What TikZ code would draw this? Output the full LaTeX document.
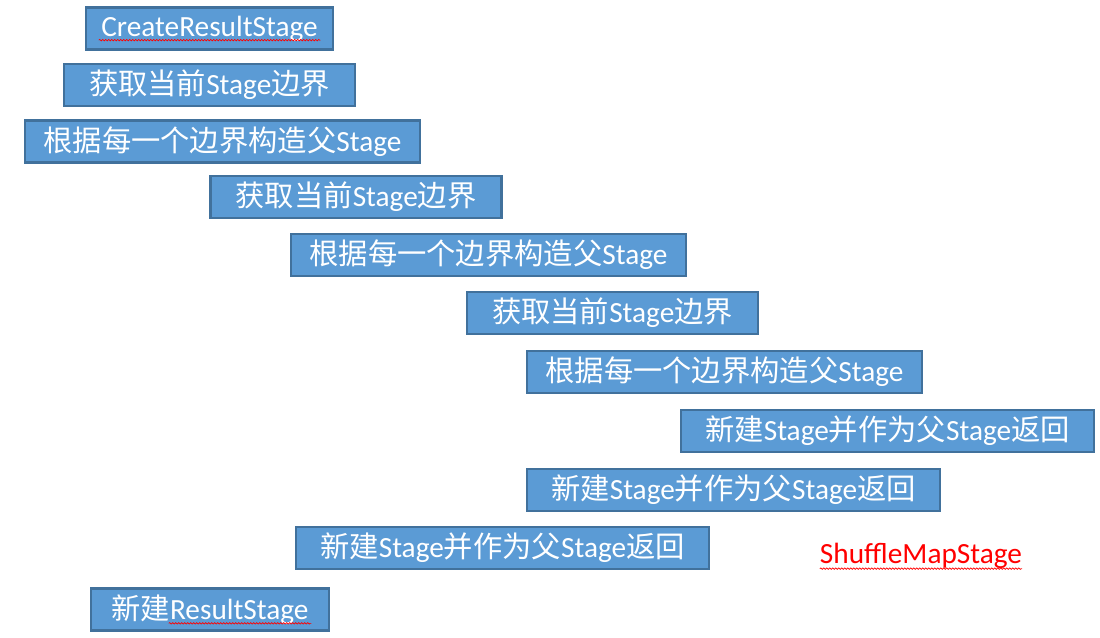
\documentclass[tikz,border=0pt]{standalone}
\usepackage{fontspec}
\setmainfont{Carlito}
\newfontfamily\cjk{Noto Sans CJK SC}
\newcommand{\zh}[1]{{\cjk #1}}
\usepackage{xcolor}
\usetikzlibrary{decorations.pathmorphing}
\definecolor{stgfill}{RGB}{91,155,213}
\definecolor{stgline}{RGB}{65,113,156}

\begin{document}
\begin{tikzpicture}[x=1pt,y=-1pt,
                    stg/.style={rectangle,draw=stgline,fill=stgfill,
                    line width=2.5pt,text=white,inner sep=0pt,
                    minimum width=#1,minimum height=42,
                    font=\fontsize{29.3}{35}\selectfont},
                    squig/.style={red,line width=0.7pt,decorate,
                    decoration={snake,amplitude=0.7pt,segment length=3pt}}]
    \useasboundingbox (0,0) rectangle (1100,637);
    % going down: boundaries and parents
    \node[stg=247](crs)  at (209.5,28.5) {CreateResultStage};
    \node[stg=291](get1) at (209.5,85)   {\zh{获取当前}Stage\zh{边界}};
    \node[stg=395](par1) at (222.5,141.5){\zh{根据每一个边界构造父}Stage};
    \node[stg=291](get2) at (356,197)    {\zh{获取当前}Stage\zh{边界}};
    \node[stg=395](par2) at (488.5,255)  {\zh{根据每一个边界构造父}Stage};
    \node[stg=291](get3) at (612.5,313)  {\zh{获取当前}Stage\zh{边界}};
    \node[stg=395](par3) at (724.5,372)  {\zh{根据每一个边界构造父}Stage};
    % coming back up: new stages
    \node[stg=413](new3) at (887.5,431)  {\zh{新建}Stage\zh{并作为父}Stage\zh{返回}};
    \node[stg=413](new2) at (733.5,490)  {\zh{新建}Stage\zh{并作为父}Stage\zh{返回}};
    \node[stg=413](new1) at (502.5,548)  {\zh{新建}Stage\zh{并作为父}Stage\zh{返回}};
    \node[stg=238](res)  at (210,609.5)  {\zh{新建}ResultStage};
    \node[text=red,inner sep=0pt,font=\fontsize{29.3}{35}\selectfont](smap)
        at (921,556) {ShuffleMapStage};
    % spell check marks
    \draw[squig] ([shift={(14,4)}]crs.base west) -- ([shift={(-14,4)}]crs.base east);
    \draw[squig] ([shift={(79,4)}]res.base west) -- ([shift={(-19,4)}]res.base east);
    \draw[squig] ([shift={(0,5)}]smap.base west) -- ([shift={(0,5)}]smap.base east);
\end{tikzpicture}
\end{document}
